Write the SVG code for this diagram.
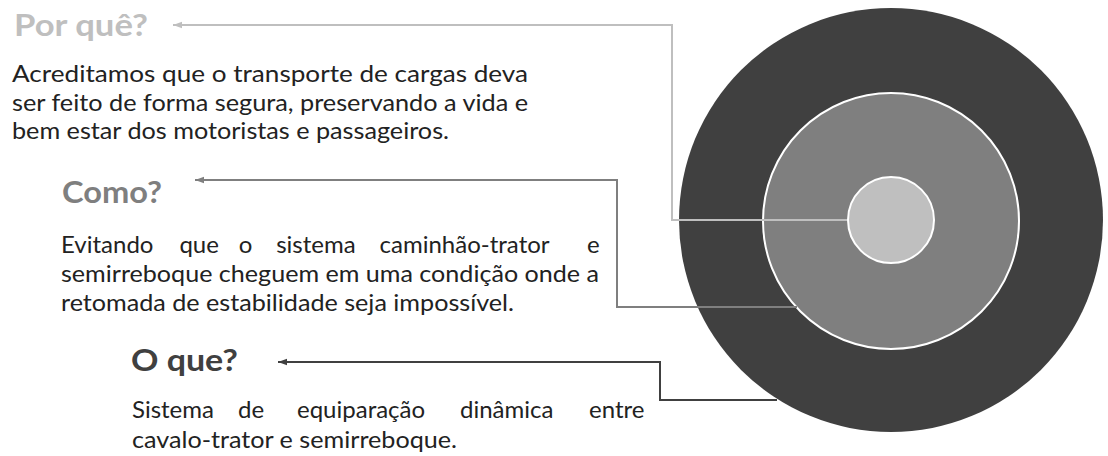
<svg xmlns="http://www.w3.org/2000/svg" width="1108" height="456" viewBox="0 0 1108 456">
<style>
.h{font-family:Lato,"Open Sans",sans-serif;font-weight:bold;font-size:31px}
.b{font-family:Lato,"Open Sans",sans-serif;font-size:24px;fill:#222}
.c{fill:none;stroke-width:2}
</style>
<defs>
<marker id="a1" viewBox="0 0 10 8" refX="10" refY="4" markerWidth="4.5" markerHeight="3.6" orient="auto"><path d="M10,4 L0,0.5 L0,7.5 Z" fill="#bfbfbf"/></marker>
<marker id="a2" viewBox="0 0 10 8" refX="10" refY="4" markerWidth="4.5" markerHeight="3.6" orient="auto"><path d="M10,4 L0,0.5 L0,7.5 Z" fill="#7f7f7f"/></marker>
<marker id="a3" viewBox="0 0 10 8" refX="10" refY="4" markerWidth="4.5" markerHeight="3.6" orient="auto"><path d="M10,4 L0,0.5 L0,7.5 Z" fill="#404040"/></marker>
</defs>
<rect width="1108" height="456" fill="#fff"/>
<g id="target">
<circle cx="891" cy="220" r="212" fill="#404040"/>
<circle cx="891" cy="221" r="128" fill="#7f7f7f" stroke="#fff" stroke-width="2"/>
<circle cx="891" cy="220" r="43" fill="#bfbfbf" stroke="#fff" stroke-width="2"/>
</g>
<g id="connectors">
<path class="c" stroke="#bfbfbf" d="M847,220 H672 V25 H173" marker-end="url(#a1)"/>
<path class="c" stroke="#7f7f7f" d="M797,307 H617 V180 H195" marker-end="url(#a2)"/>
<path class="c" stroke="#404040" d="M777,400 H660 V362 H278" marker-end="url(#a3)"/>
</g>
<g id="porque">
<text class="h" x="14" y="36" fill="#bfbfbf" textLength="134" lengthAdjust="spacingAndGlyphs">Por quê?</text>
<text class="b" x="12" y="82" textLength="516" lengthAdjust="spacingAndGlyphs">Acreditamos que o transporte de cargas deva</text>
<text class="b" x="12" y="111" textLength="516" lengthAdjust="spacingAndGlyphs">ser feito de forma segura, preservando a vida e</text>
<text class="b" x="12" y="139" textLength="437" lengthAdjust="spacingAndGlyphs">bem estar dos motoristas e passageiros.</text>
</g>
<g id="como">
<text class="h" x="62" y="203" fill="#7f7f7f" textLength="100" lengthAdjust="spacingAndGlyphs">Como?</text>
<text class="b" y="253"><tspan x="61">Evitando</tspan><tspan x="179.4">que</tspan><tspan x="238.8">o</tspan><tspan x="276.2">sistema</tspan><tspan x="379.6">caminhão-trator</tspan><tspan x="587">e</tspan></text>
<text class="b" x="61" y="282" textLength="538" lengthAdjust="spacingAndGlyphs">semirreboque cheguem em uma condição onde a</text>
<text class="b" x="61" y="311" textLength="453" lengthAdjust="spacingAndGlyphs">retomada de estabilidade seja impossível.</text>
</g>
<g id="oque">
<text class="h" x="131" y="371" fill="#404040" textLength="107" lengthAdjust="spacingAndGlyphs">O que?</text>
<text class="b" y="418"><tspan x="132">Sistema</tspan><tspan x="238">de</tspan><tspan x="297">equiparação</tspan><tspan x="460">dinâmica</tspan><tspan x="589">entre</tspan></text>
<text class="b" x="132" y="448" textLength="325" lengthAdjust="spacingAndGlyphs">cavalo-trator e semirreboque.</text>
</g>
</svg>
